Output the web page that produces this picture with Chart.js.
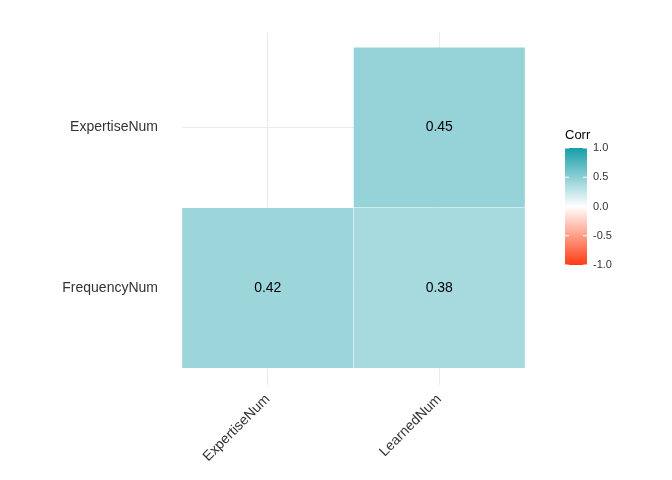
<!DOCTYPE html>
<html>
<head>
<meta charset="utf-8">
<script src="https://cdn.jsdelivr.net/npm/chart.js@4/dist/chart.umd.min.js"></script>
<style>
  html, body { margin: 0; padding: 0; background: #fff; }
  #wrap { width: 672px; height: 480px; }
</style>
</head>
<body>
<div id="wrap"><canvas id="chart"></canvas></div>
<script>
// data
const xLabels = ['ExpertiseNum', 'LearnedNum']
const yLabels = ['FrequencyNum', 'ExpertiseNum']   // bottom -> top
const rowExpertise = [null, 0.45]
const rowFrequency = [0.42, 0.38]
const legendTicks = [1.0, 0.5, 0.0, -0.5, -1.0]

// diverging colour scale low -> mid -> high
const lowCol = [255, 61, 18], midCol = [255, 255, 255], highCol = [22, 158, 168]
function corrColor(v){
  const a = v < 0 ? lowCol : highCol
  const t = Math.abs(v)
  const c = midCol.map((m, i) => Math.round(m + (a[i] - m) * t))
  return `rgb(${c[0]},${c[1]},${c[2]})`
}

function rowPoints(row, yi){
  const pts = []
  row.forEach((v, xi) => {
    if(v !== null) pts.push({ x: xLabels[xi], y: [yi - 0.5, yi + 0.5], v: v })
  })
  return pts
}

const datasets = [rowFrequency, rowExpertise].map((row, yi) => {
  const pts = rowPoints(row, yi)
  return {
    data: pts,
    backgroundColor: pts.map(p => corrColor(p.v)),
    borderColor: 'rgba(255,255,255,0.35)',
    borderWidth: 0.5,
    borderSkipped: false,
    grouped: false,
    barPercentage: 1,
    categoryPercentage: 1
  }
})

const font = "'Liberation Sans', Arial, sans-serif"

// text in cells + colourbar legend
const cellText = {
  id: 'cellText',
  afterDatasetsDraw(chart){
    const ctx = chart.ctx
    ctx.save()
    ctx.fillStyle = '#000'
    ctx.font = '14px ' + font
    ctx.textAlign = 'center'
    ctx.textBaseline = 'middle'
    chart.data.datasets.forEach((ds, di) => {
      chart.getDatasetMeta(di).data.forEach((bar, i) => {
        const p = ds.data[i]
        const y = (bar.y + bar.base) / 2
        ctx.fillText(p.v.toFixed(2), bar.x, y)
      })
    })
    // legend
    const lx = 565, ly = 148, lw = 22, lh = 117
    ctx.textAlign = 'left'
    ctx.fillStyle = '#000'
    ctx.font = '13px ' + font
    ctx.fillText('Corr', 565, 135)
    const g = ctx.createLinearGradient(0, ly, 0, ly + lh)
    g.addColorStop(0, corrColor(1))
    g.addColorStop(0.25, corrColor(0.5))
    g.addColorStop(0.5, corrColor(0))
    g.addColorStop(0.75, corrColor(-0.5))
    g.addColorStop(1, corrColor(-1))
    ctx.fillStyle = g
    ctx.fillRect(lx, ly, lw, lh)
    ctx.font = '11px ' + font
    ctx.fillStyle = '#333'
    legendTicks.forEach(t => {
      const ty = ly + (1 - t) / 2 * lh
      ctx.strokeStyle = '#fff'
      ctx.beginPath()
      ctx.moveTo(lx, ty); ctx.lineTo(lx + 4, ty)
      ctx.moveTo(lx + lw - 4, ty); ctx.lineTo(lx + lw, ty)
      ctx.stroke()
      ctx.fillText(t.toFixed(1), lx + lw + 6, ty)
    })
    ctx.restore()
  }
}

new Chart(document.getElementById('chart'), {
  type: 'bar',
  data: { labels: xLabels, datasets: datasets },
  options: {
    responsive: true,
    maintainAspectRatio: false,
    animation: false,
    layout: { padding: { left: 0, right: 147, top: 0, bottom: 0 } },
    plugins: { legend: { display: false }, tooltip: { enabled: false } },
    scales: {
      x: {
        type: 'category',
        offset: true,
        afterFit: s => { s.height = 95 },
        grid: { color: '#ebebeb', drawTicks: false, offset: false },
        border: { display: false },
        ticks: {
          color: '#333',
          font: { size: 14, family: font },
          minRotation: 45, maxRotation: 45,
          padding: 6
        }
      },
      y: {
        type: 'linear',
        min: -0.605, max: 1.593,
        afterBuildTicks: s => { s.ticks = yLabels.map((l, i) => ({ value: i })) },
        afterFit: s => { s.width = 182 },
        grid: { color: '#ebebeb', drawTicks: false },
        border: { display: false },
        ticks: {
          callback: v => yLabels[v],
          color: '#333',
          font: { size: 14, family: font },
          padding: 24
        }
      }
    }
  },
  plugins: [cellText]
})
</script>
</body>
</html>
